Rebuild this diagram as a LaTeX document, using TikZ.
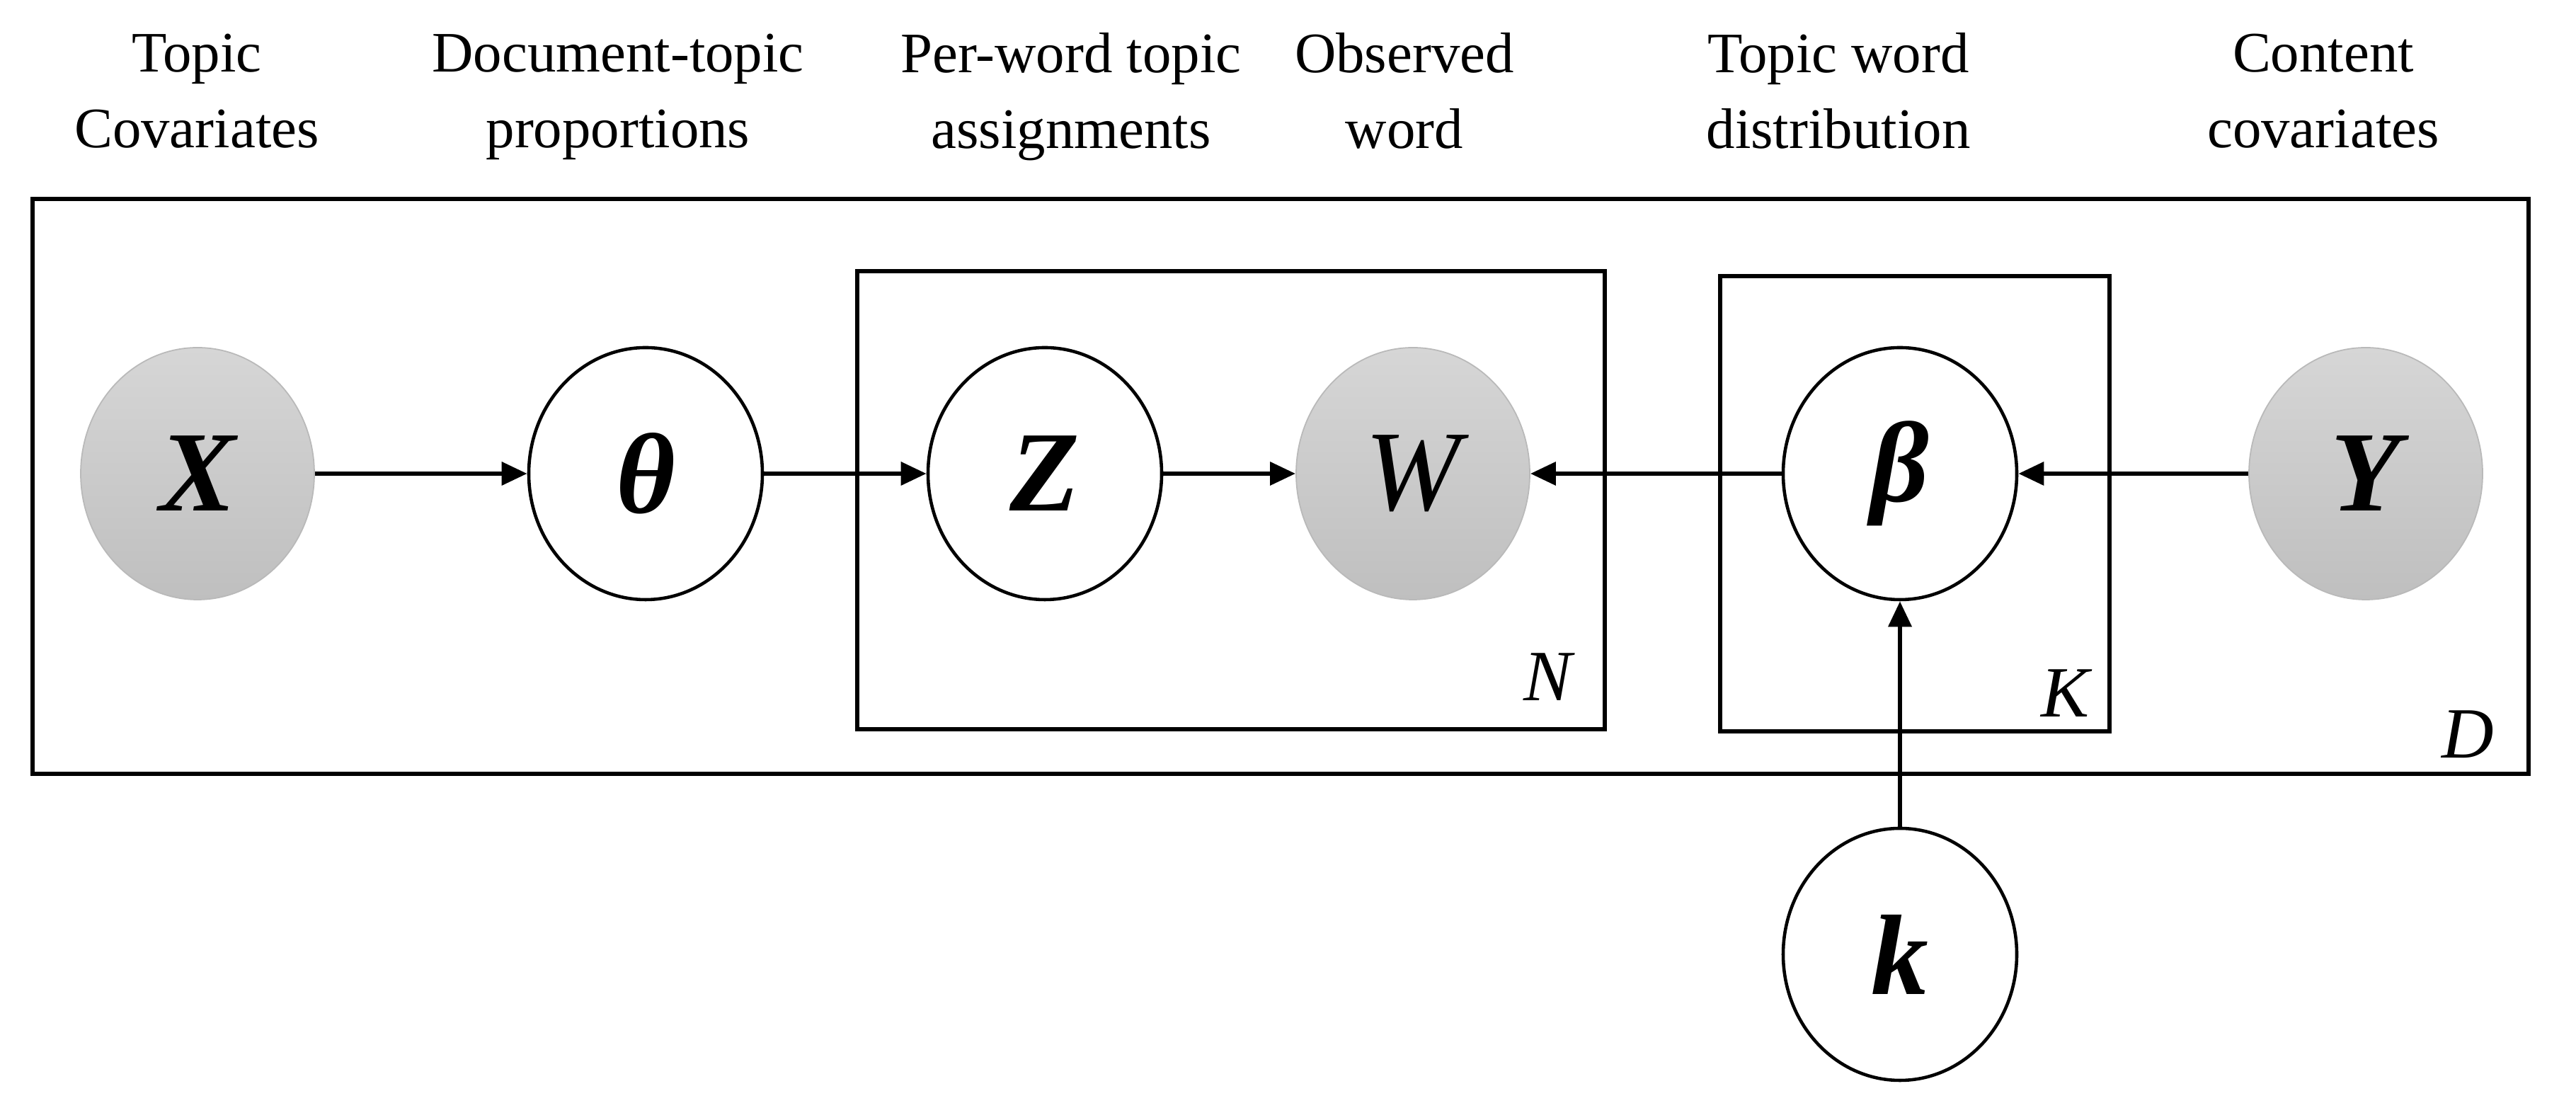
\documentclass[tikz,border=0pt]{standalone}
\usepackage{fontspec}
\setmainfont{Liberation Serif}
\usepackage{tikz}
\usetikzlibrary{arrows.meta,shapes.geometric,calc}
\definecolor{obstop}{RGB}{214,214,214}
\definecolor{obsbot}{RGB}{191,191,191}
\newcommand{\clrobs}{gray!55}
\newcommand{\clredge}{black}

\begin{document}
\begin{tikzpicture}[
    var/.style = {ellipse, draw=\clredge, line width=1.3pt, minimum width=3.3cm, minimum height=3.56cm, inner sep=0pt, font=\fontsize{46}{50}\selectfont\bfseries\itshape},
    obs/.style = {var, draw=\clrobs, line width=0.5pt, top color=obstop, bottom color=obsbot},
    plate/.style = {draw, line width=1.5pt},
    edge/.style = {line width=1.9pt, -{Triangle[length=0.36cm, width=0.32cm]}},
    lbl/.style = {align=center, font=\fontsize{23}{30.4}\selectfont, execute at begin node=\strut, execute at end node=\strut},
    platelbl/.style = {font=\fontsize{29}{32}\selectfont\itshape}
]
    \useasboundingbox (0,0) rectangle (36.39,15.65);

    % plates
    \draw[plate] (0.46,4.72) rectangle (35.72,12.84);
    \draw[plate] (12.11,5.35) rectangle (22.67,11.82);
    \draw[plate] (24.30,5.32) rectangle (29.80,11.75);
    \node[platelbl] (plN) at (21.86,6.09) {N};
    \node[platelbl] (plK) at (29.17,5.86) {K};
    \node[platelbl] (plD) at (34.86,5.28) {D};

    % headings
    \foreach \x/\txt [count=\i] in {2.78/{Topic\\Covariates}, 8.73/{Document-topic\\proportions}, 15.13/{Per-word topic\\assignments}, 19.84/{Observed\\word}, 25.97/{Topic word\\distribution}, 32.82/{Content\\covariates}} {
        \node[lbl] (head\i) at (\x,14.21) {\txt};
    }

    % variables
    \node[obs] (X) at (2.79,8.96) {X};
    \node[var] (theta) at (9.12,8.96) {θ};
    \node[var] (Z) at (14.76,8.96) {Z};
    \node[obs, font=\fontsize{46}{50}\selectfont\itshape] (W) at (19.96,8.96) {W};
    \node[var] (beta) at (26.84,8.96) {β};
    \node[obs] (Y) at (33.42,8.96) {Y};
    \node[var] (k) at (26.84,2.17) {k};

    \draw[edge] (X) -- (theta);
    \draw[edge] (theta) -- (Z);
    \draw[edge] (Z) -- (W);
    \draw[edge] (beta) -- (W);
    \draw[edge] (Y) -- (beta);
    \draw[edge] (k) -- (beta);
\end{tikzpicture}
\end{document}
